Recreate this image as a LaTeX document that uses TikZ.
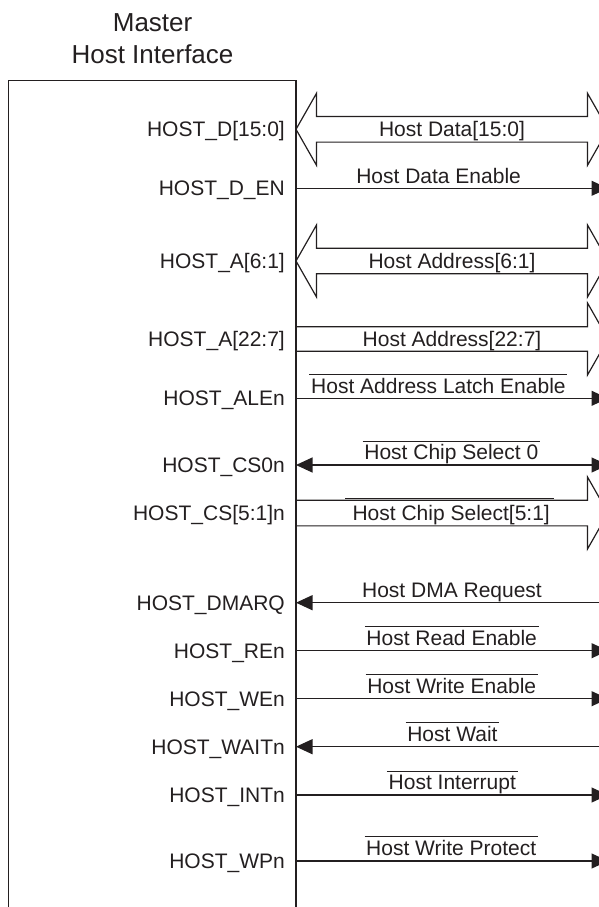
\documentclass[tikz,border=0pt]{standalone}
\usepackage{fontspec}
\setmainfont{Liberation Sans}
\usetikzlibrary{arrows.meta,calc}
\definecolor{ink}{RGB}{35,31,32}

% fat bus arrow, heads at both ends: #1 left tip, #2 right tip, #3 half shaft
\newcommand\busboth[3]{%
  \draw[busline] (#1) -- ($(#1)+(20.5,-36)$) -- ($(#1)+(20.5,-#3)$)
    -- ($(#2)+(-20.5,-#3)$) -- ($(#2)+(-20.5,-36)$) -- (#2)
    -- ($(#2)+(-20.5,36)$) -- ($(#2)+(-20.5,#3)$)
    -- ($(#1)+(20.5,#3)$) -- ($(#1)+(20.5,36)$) -- cycle;}
% fat bus arrow, head at the right end only
\newcommand\busright[3]{%
  \draw[busline] ($(#1)+(0,-#3)$) -- ($(#2)+(-20.5,-#3)$)
    -- ($(#2)+(-20.5,-36)$) -- (#2) -- ($(#2)+(-20.5,36)$)
    -- ($(#2)+(-20.5,#3)$) -- ($(#1)+(0,#3)$);}
% bar over an active-low signal name
\newcommand\barover[1]{%
  \draw[barline] ([xshift=-1.5pt,yshift=3.3pt]#1.north west)
    -- ([xshift=1.5pt,yshift=3.3pt]#1.north east);}

\begin{document}
\begin{tikzpicture}[x=1pt,y=-1pt,
  every node/.style={font=\fontsize{21}{31.5}\selectfont, text=ink, inner sep=0pt},
  titlelabel/.style={anchor=base, font=\fontsize{26}{31.6}\selectfont},
  pinlabel/.style={anchor=base east},
  siglabel/.style={anchor=base},
  boxline/.style={draw=ink, line width=1.3pt},
  busline/.style={draw=ink, line width=1.2pt, line join=miter},
  wire/.style={draw=ink, line width=1.2pt},
  barline/.style={draw=ink, line width=1pt},
  outtip/.style={-{Triangle[length=16.5pt,width=15pt]}},
  intip/.style={{Triangle[length=16.5pt,width=15pt]}-},
  bothtip/.style={{Triangle[length=16.5pt,width=15pt]}-{Triangle[length=16.5pt,width=15pt]}}]

\useasboundingbox (0,0) rectangle (599,907);
\clip (0,0) rectangle (599,907);

% title
\node[titlelabel] (title1) at (152.6,31.7) {Master};
\node[titlelabel] (title2) at (152.5,63.3) {Host Interface};

% interface block (open at the bottom)
\draw[boxline] (8.3,930) -- (8.3,80.7) -- (296,80.7) -- (296,930);

% pin points on the block edge and far ends of the signals
\foreach \n/\y in {D/129.3, DEN/188.3, AL/261, AH/339, ALE/398.3, CSz/465,
                   CS/513, DMA/602.7, RE/650.7, WE/698.7, WAIT/746.7,
                   INT/795, WP/861} {
  \coordinate (p\n) at (296,\y);
  \coordinate (q\n) at (608,\y);
}

% pin names
\node[pinlabel] (lD)    at (285,136.7) {HOST\_D[15:0]};
\node[pinlabel] (lDEN)  at (285,195.7) {HOST\_D\_EN};
\node[pinlabel] (lAL)   at (285,268.4) {HOST\_A[6:1]};
\node[pinlabel] (lAH)   at (285,346.4) {HOST\_A[22:7]};
\node[pinlabel] (lALE)  at (285,405.7) {HOST\_ALEn};
\node[pinlabel] (lCSz)  at (285,472.4) {HOST\_CS0n};
\node[pinlabel] (lCS)   at (285,520.4) {HOST\_CS[5:1]n};
\node[pinlabel] (lDMA)  at (285,610.1) {HOST\_DMARQ};
\node[pinlabel] (lRE)   at (285,658.1) {HOST\_REn};
\node[pinlabel] (lWE)   at (285,706.1) {HOST\_WEn};
\node[pinlabel] (lWAIT) at (285,754.1) {HOST\_WAITn};
\node[pinlabel] (lINT)  at (285,802.4) {HOST\_INTn};
\node[pinlabel] (lWP)   at (285,868.4) {HOST\_WPn};

% buses
\busboth{pD}{qD}{12.8}
\busboth{pAL}{qAL}{12.8}
\busright{pAH}{qAH}{12.2}
\busright{pCS}{qCS}{12.85}

% single lines
\draw[wire,outtip]  (pDEN) -- (qDEN);
\draw[wire,outtip]  (pALE) -- (qALE);
\draw[wire,bothtip] (pCSz) -- (qCSz);
\draw[wire,intip]   (pDMA) -- (qDMA);
\draw[wire,outtip]  (pRE) -- (qRE);
\draw[wire,outtip]  (pWE) -- (qWE);
\draw[wire,intip]   (pWAIT) -- (qWAIT);
\draw[wire,outtip]  (pINT) -- (qINT);
\draw[wire,outtip]  (pWP) -- (qWP);

% signal names
\node[siglabel] (tD)    at (452,136.7) {Host Data[15:0]};
\node[siglabel] (tDEN)  at (438.6,183.3) {Host Data Enable};
\node[siglabel] (tAL)   at (452,268.4) {Host Address[6:1]};
\node[siglabel] (tAH)   at (452,346.4) {Host Address[22:7]};
\node[siglabel] (tALE)  at (438.4,393.2) {Host Address Latch Enable};
\node[siglabel] (tCSz)  at (451.3,459.9) {Host Chip Select 0};
\node[siglabel] (tCS)   at (451.2,520.4) {Host Chip Select[5:1]};
\node[siglabel] (tDMA)  at (452,597.2) {Host DMA Request};
\node[siglabel] (tRE)   at (451.7,645.2) {Host Read Enable};
\node[siglabel] (tWE)   at (451.7,693.2) {Host Write Enable};
\node[siglabel] (tWAIT) at (452.4,741.2) {Host Wait};
\node[siglabel] (tINT)  at (452.3,789.5) {Host Interrupt};
\node[siglabel] (tWP)   at (451.2,855.5) {Host Write Protect};

% active-low bars
\barover{tALE}
\barover{tCSz}
\barover{tRE}
\barover{tWE}
\barover{tWAIT}
\barover{tINT}
\barover{tWP}
\draw[barline] ([xshift=-7pt,yshift=6.8pt]tCS.north west)
  -- ([xshift=4pt,yshift=6.8pt]tCS.north east);
\end{tikzpicture}
\end{document}
